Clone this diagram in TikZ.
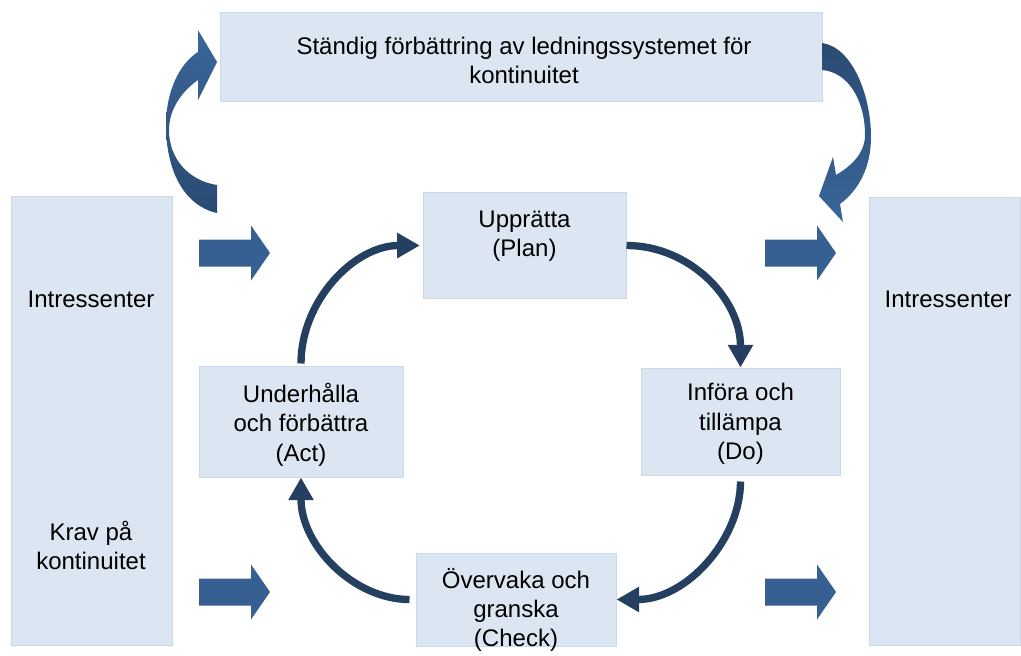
\documentclass[tikz,border=0pt]{standalone}
\usepackage{fontspec}
\setmainfont{Liberation Sans}
\usetikzlibrary{arrows.meta}

\definecolor{boxfill}{RGB}{220,230,242}
\definecolor{boxline}{RGB}{203,216,234}
\definecolor{blkblue}{RGB}{55,96,146}
\definecolor{blklight}{RGB}{58,102,154}
\definecolor{blkdark}{RGB}{42,74,114}
\definecolor{cycblue}{RGB}{36,63,96}

\tikzset{
  box/.style={draw=boxline, fill=boxfill, line width=0.75pt, inner sep=0pt},
  txt/.style={align=center, font=\fontsize{18}{22}\selectfont, inner sep=0pt},
  cyc/.style={draw=cycblue, line width=5.5pt, -{Triangle[length=17pt,width=18pt]}},
  blkarrow/.pic={\fill[blkblue] (0,-13.5) -- (52,-13.5) -- (52,-27.5) -- (71,0) -- (52,27.5) -- (52,13.5) -- (0,13.5) -- cycle;}
}

\begin{document}
\begin{tikzpicture}[x=0.75pt,y=0.75pt,yscale=-1,xscale=1]
\useasboundingbox (0,0) rectangle (1021,656);
% boxes
\node[box, minimum width=451.5pt, minimum height=66.75pt] (top) at (521,57.5) {};
\node[box, minimum width=120.75pt, minimum height=336pt] (left) at (91.5,421) {};
\node[box, minimum width=113.25pt, minimum height=335.25pt] (right) at (944.5,421.5) {};
\node[box, minimum width=152.25pt, minimum height=78.75pt] (plan) at (524.5,245.5) {};
\node[box, minimum width=149.25pt, minimum height=80.25pt] (do) at (740.5,421.5) {};
\node[box, minimum width=153pt, minimum height=83.25pt] (act) at (301,421.5) {};
\node[box, minimum width=150pt, minimum height=69.75pt] (check) at (516,599.5) {};
% texts
\node[txt] (toptxt) at (524,60.5) {Ständig förbättring av ledningssystemet för\\kontinuitet};
\node[txt] (lefttxt) at (91,299.5) {Intressenter};
\node[txt] (kravtxt) at (91,545.5) {Krav på\\kontinuitet};
\node[txt] (righttxt) at (948,299.5) {Intressenter};
\node[txt] (plantxt) at (524.5,236) {Upprätta\\(Plan)};
\node[txt] (dotxt) at (740.5,424) {Införa och\\tillämpa\\(Do)};
\node[txt] (acttxt) at (301,424.5) {Underhålla\\och förbättra\\(Act)};
\node[txt] (checktxt) at (516,610) {Övervaka och\\granska\\(Check)};
% PDCA cycle
\draw[cyc] (plan.east) .. controls +(63,0) and +(0,-69) .. (do.north);
\draw[cyc, shorten <=4.5pt] (do.south) .. controls +(0,64) and +(70,0) .. (check.east);
\draw[cyc, shorten <=4.5pt] (check.west) .. controls +(-62,0) and +(0,68) .. (act.south);
\draw[cyc, shorten <=1.5pt, shorten >=2pt] (act.north) .. controls +(0,-65) and +(-68,0) .. (plan.west);
% block arrows
\pic at (199,253) {blkarrow};
\pic at (199,592) {blkarrow};
\pic at (765,253) {blkarrow};
\pic at (765,592) {blkarrow};
% curved arrows
\path[top color=blklight, bottom color=blkdark] (217,213) .. controls (185,206) and (166,172) .. (166,125) .. controls (166,92) and (179,64) .. (198,52) -- (198,30) -- (217,62) -- (198,100) -- (198,80) .. controls (181,92) and (169,110) .. (169,130) .. controls (169,160) and (190,181) .. (217,185) -- cycle;
\path[top color=blkdark, bottom color=blklight] (822,43) .. controls (852,47) and (871,95) .. (871,137) .. controls (871,167) and (859,190) .. (840,204) -- (843,222) -- (819,196) -- (833,157) -- (836,175) .. controls (853,165) and (865,152) .. (865,135) .. controls (865,100) and (848,72) .. (822,70) -- cycle;
\end{tikzpicture}
\end{document}
